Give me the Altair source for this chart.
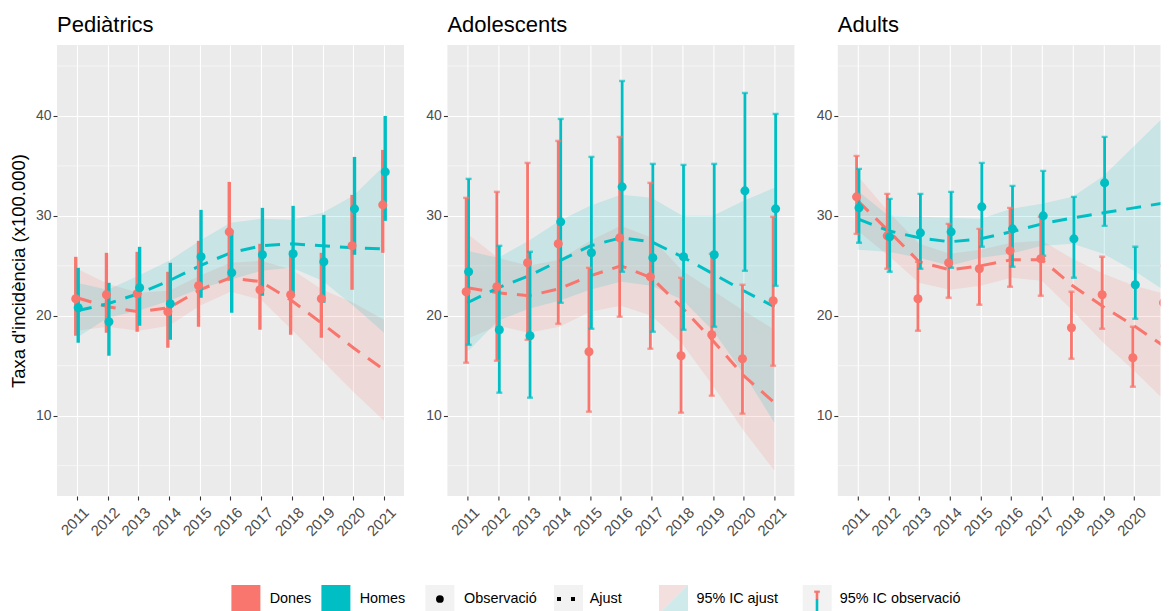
import altair as alt
import pandas as pd

years = list(range(2011, 2022))
groups = ["Pediàtrics", "Adolescents", "Adults"]
sexes = ["Dones", "Homes"]
colors = ["#F8766D", "#00BFC4"]
y_ticks = [10, 20, 30, 40]
y_minor = [5, 15, 25, 35, 45]

# ---- Pediàtrics ----
ped_d_obs = [21.7, 22.1, 22.2, 20.4, 23.0, 28.4, 22.6, 22.1, 21.7, 27.0, 31.1]
ped_d_lo = [18.0, 18.3, 18.4, 16.8, 18.9, 23.5, 18.6, 18.1, 17.8, 22.6, 26.3]
ped_d_hi = [25.9, 26.3, 26.4, 24.4, 27.5, 33.4, 27.2, 26.5, 26.3, 32.1, 36.6]
ped_h_obs = [20.8, 19.4, 22.8, 21.2, 25.9, 24.3, 26.1, 26.2, 25.4, 30.7, 34.4]
ped_h_lo = [17.3, 16.0, 19.0, 17.6, 21.8, 20.3, 22.0, 22.0, 21.3, 26.1, 29.5]
ped_h_hi = [24.8, 23.3, 26.9, 25.3, 30.6, 28.6, 30.8, 31.0, 30.1, 35.9, 40.0]
ped_d_fit = [21.8, 20.9, 20.4, 20.8, 22.6, 23.8, 23.4, 21.5, 19.2, 16.8, 14.6]
ped_d_flo = [18.5, 18.9, 18.5, 19.0, 21.0, 22.4, 21.6, 18.6, 15.5, 12.4, 9.5]
ped_d_fhi = [24.7, 23.2, 22.3, 22.5, 24.0, 25.3, 25.5, 24.6, 22.6, 21.3, 19.6]
ped_h_fit = [20.5, 21.2, 22.2, 23.5, 25.0, 26.3, 27.0, 27.2, 27.0, 26.8, 26.7]
ped_h_flo = [17.8, 19.8, 20.5, 21.5, 22.7, 23.6, 24.5, 24.8, 23.5, 21.0, 18.3]
ped_h_fhi = [23.3, 22.6, 24.0, 25.5, 27.5, 29.3, 29.7, 29.6, 30.3, 32.0, 35.0]

# ---- Adolescents ----
ado_d_obs = [22.4, 22.9, 25.3, 27.2, 16.4, 27.8, 23.9, 16.0, 18.1, 15.7, 21.5]
ado_d_lo = [15.3, 15.5, 17.6, 19.2, 10.4, 19.9, 16.7, 10.3, 12.0, 10.2, 15.0]
ado_d_hi = [31.8, 32.4, 35.3, 37.5, 24.8, 37.9, 33.3, 23.8, 26.2, 23.1, 29.9]
ado_h_obs = [24.4, 18.6, 18.0, 29.4, 26.3, 32.9, 25.8, 25.9, 26.1, 32.5, 30.7]
ado_h_lo = [17.1, 12.3, 11.8, 21.3, 18.7, 24.4, 18.4, 18.6, 18.9, 24.5, 23.0]
ado_h_hi = [33.7, 27.0, 26.4, 39.7, 35.9, 43.5, 35.2, 35.1, 35.2, 42.3, 40.2]
ado_d_fit = [22.8, 22.3, 22.0, 22.7, 24.0, 25.0, 23.8, 20.8, 17.5, 14.0, 11.3]
ado_d_flo = [17.7, 19.0, 18.3, 18.9, 20.4, 21.0, 20.0, 17.2, 13.0, 8.5, 4.5]
ado_d_fhi = [28.2, 25.8, 25.0, 25.6, 27.5, 29.0, 27.8, 24.5, 22.5, 20.5, 18.6]
ado_h_fit = [21.3, 22.8, 24.0, 25.5, 27.0, 27.8, 27.4, 25.9, 24.2, 22.5, 20.9]
ado_h_flo = [16.4, 19.5, 20.7, 21.5, 22.6, 23.4, 23.0, 21.6, 18.5, 14.2, 9.3]
ado_h_fhi = [26.5, 25.8, 27.5, 29.5, 31.0, 32.1, 31.8, 30.0, 30.0, 31.5, 32.8]

# ---- Adults ----
adu_d_obs = [31.9, 28.0, 21.7, 25.3, 24.7, 26.5, 25.7, 18.8, 22.1, 15.8, 21.3]
adu_d_lo = [28.2, 24.7, 18.5, 21.8, 21.1, 22.9, 22.0, 15.7, 18.7, 12.9, 17.9]
adu_d_hi = [36.0, 32.2, 25.4, 29.2, 28.7, 30.8, 29.9, 22.4, 25.9, 18.9, 25.0]
adu_h_obs = [30.8, 27.9, 28.3, 28.4, 30.9, 28.7, 30.0, 27.7, 33.3, 23.1, 30.3]
adu_h_lo = [27.3, 24.4, 24.7, 24.8, 26.9, 24.9, 26.0, 23.8, 29.0, 19.7, 26.4]
adu_h_hi = [34.7, 31.7, 32.2, 32.4, 35.3, 33.0, 34.5, 31.9, 37.9, 26.9, 34.6]
adu_d_fit = [31.5, 28.5, 25.4, 24.6, 25.0, 25.6, 25.6, 23.0, 20.9, 19.0, 16.9]
adu_d_flo = [28.5, 26.0, 23.3, 22.6, 23.0, 23.8, 23.5, 20.5, 17.3, 14.5, 11.5]
adu_d_fhi = [34.0, 30.4, 27.2, 26.2, 26.6, 27.3, 27.5, 25.7, 24.2, 23.0, 22.2]
adu_h_fit = [29.7, 28.5, 27.8, 27.4, 27.7, 28.4, 29.2, 29.8, 30.3, 30.8, 31.3]
adu_h_flo = [26.6, 26.4, 25.8, 25.0, 25.8, 26.2, 27.0, 27.2, 26.2, 24.5, 22.5]
adu_h_fhi = [32.5, 30.0, 29.9, 29.8, 29.7, 30.7, 31.2, 31.9, 34.0, 37.0, 40.0]

legend_labels = ["Dones", "Homes", "Observació", "Ajust", "95% IC ajust", "95% IC observació"]

FONT = "Liberation Sans"


def build_df(d, h):
    rows = []
    for sex, arrs in zip(sexes, (d, h)):
        obs, lo, hi, fit, flo, fhi = arrs
        for i, yr in enumerate(years):
            rows.append(dict(year=yr, sexe=sex, obs=obs[i], lo=lo[i], hi=hi[i],
                             fit=fit[i], flo=flo[i], fhi=fhi[i]))
    return pd.DataFrame(rows)


panel_data = [
    build_df((ped_d_obs, ped_d_lo, ped_d_hi, ped_d_fit, ped_d_flo, ped_d_fhi),
             (ped_h_obs, ped_h_lo, ped_h_hi, ped_h_fit, ped_h_flo, ped_h_fhi)),
    build_df((ado_d_obs, ado_d_lo, ado_d_hi, ado_d_fit, ado_d_flo, ado_d_fhi),
             (ado_h_obs, ado_h_lo, ado_h_hi, ado_h_fit, ado_h_flo, ado_h_fhi)),
    build_df((adu_d_obs, adu_d_lo, adu_d_hi, adu_d_fit, adu_d_flo, adu_d_fhi),
             (adu_h_obs, adu_h_lo, adu_h_hi, adu_h_fit, adu_h_flo, adu_h_fhi)),
]

PH = 451
STEP = 30.7
X0 = 2010.349
YDOM = [1.96, 47.1]
color_scale = alt.Scale(domain=sexes, range=colors)
one = alt.Data(values=[{"k": 0}])

# legend glyph placement, relative to the first panel's plot area (page x 57.3, y 45)
OX, OY = 57.3, 45.0
LY0, LY1, LYM = 585 - OY, 614 - OY, 599 - OY


def lrect(x0, x1, fill):
    return alt.Chart(one).mark_rect(color=fill).encode(
        x=alt.value(x0 - OX), x2=alt.value(x1 - OX), y=alt.value(LY0), y2=alt.value(LY1))


def ltext(x0, txt):
    return alt.Chart(one).mark_text(align="left", baseline="middle", fontSize=14.4,
                                    font=FONT, color="black").encode(
        x=alt.value(x0 - OX), y=alt.value(LYM), text=alt.value(txt))


def legend_layers():
    return [
        lrect(231.7, 260.7, colors[0]), ltext(270, legend_labels[0]),
        lrect(321.7, 350.7, colors[1]), ltext(360, legend_labels[1]),
        lrect(425.7, 454.7, "#F2F2F2"),
        alt.Chart(one).mark_point(filled=True, shape="circle", size=60, color="black",
                                  opacity=1).encode(x=alt.value(440.2 - OX), y=alt.value(LYM)),
        ltext(464.3, legend_labels[2]),
        lrect(554.3, 583.3, "#F2F2F2"),
        alt.Chart(one).mark_rule(color="black", strokeWidth=4, strokeDash=[4, 10]).encode(
            x=alt.value(557.3 - OX), x2=alt.value(583 - OX), y=alt.value(LYM)),
        ltext(590, legend_labels[3]),
        lrect(659.3, 688.3, "#F2F2F2"),
        alt.Chart(one).mark_point(filled=True, shape="M-1,-1L1,-1L-1,1Z", size=841,
                                  color="#F3DFDE", opacity=1).encode(
            x=alt.value(673.8 - OX), y=alt.value(599.5 - OY)),
        alt.Chart(one).mark_point(filled=True, shape="M1,-1L1,1L-1,1Z", size=841,
                                  color="#CEEAEB", opacity=1).encode(
            x=alt.value(673.8 - OX), y=alt.value(599.5 - OY)),
        ltext(696.7, legend_labels[4]),
        lrect(803, 832, "#F2F2F2"),
        alt.Chart(one).mark_rule(color=colors[0], strokeWidth=2.6).encode(
            x=alt.value(817.3 - OX), y=alt.value(591.7 - OY), y2=alt.value(LYM)),
        alt.Chart(one).mark_rule(color=colors[0], strokeWidth=2.2).encode(
            x=alt.value(814.5 - OX), x2=alt.value(820.1 - OX), y=alt.value(591.7 - OY)),
        alt.Chart(one).mark_rule(color=colors[1], strokeWidth=2.6).encode(
            x=alt.value(817.3 - OX), y=alt.value(LYM), y2=alt.value(LY1)),
        ltext(840, legend_labels[5]),
    ]


def panel(idx, name, df, width, xmax, yrs):
    first = idx == 0
    caps = idx > 0
    ebw = 3.4 if first else 2.8
    clip = idx == 2
    x_axis = alt.Axis(values=yrs, format="d", labelAngle=-45, labelAlign="right",
                      labelBaseline="top", labelOverlap=False, labelFontSize=15,
                      labelOffset=4, labelPadding=4.5,
                      grid=True, gridColor="white", gridWidth=1.1, title=None)
    y_axis = alt.Axis(values=y_ticks, grid=True, gridColor="white", gridWidth=1.1,
                      labelFontSize=14,
                      title="Taxa d'incidència (x100.000)" if first else None)
    xs = alt.Scale(domain=[X0, xmax], nice=False, zero=False)
    ys = alt.Scale(domain=YDOM, nice=False, zero=False)
    base = alt.Chart(df)
    X = alt.X("year:Q", scale=xs, axis=x_axis)
    XD = alt.X("xd:Q", scale=xs, axis=x_axis)
    col = alt.Color("sexe:N", scale=color_scale, legend=None)

    minor = alt.Chart(pd.DataFrame({"v": y_minor})).mark_rule(
        color="white", strokeWidth=0.55).encode(y=alt.Y("v:Q", scale=ys, axis=y_axis))
    ribbon = base.mark_area(opacity=0.15, clip=clip).encode(
        x=X, y=alt.Y("flo:Q", scale=ys, axis=y_axis), y2="fhi:Q", color=col)
    line = base.mark_line(strokeDash=[15, 10], strokeWidth=3, clip=clip).encode(
        x=X, y=alt.Y("fit:Q", scale=ys, axis=y_axis), color=col)
    dodged = base.transform_calculate(
        xd="datum.year + (datum.sexe == 'Dones' ? -0.04 : 0.04)")
    ebar = dodged.mark_rule(strokeWidth=ebw, clip=clip).encode(
        x=XD, y=alt.Y("lo:Q", scale=ys, axis=y_axis), y2="hi:Q", color=col)
    layers = [minor, ribbon, line, ebar]
    if caps:
        for fld in ("hi", "lo"):
            layers.append(dodged.mark_tick(orient="horizontal", size=6, thickness=2.4,
                                           clip=clip).encode(
                x=XD, y=alt.Y(fld + ":Q", scale=ys, axis=y_axis), color=col))
    layers.append(dodged.mark_circle(size=82, opacity=1, clip=clip).encode(
        x=XD, y=alt.Y("obs:Q", scale=ys, axis=y_axis), color=col))
    layers.append(alt.Chart(one).mark_text(
        align="left", baseline="alphabetic", fontSize=22, font=FONT, color="black").encode(
        x=alt.value(0), y=alt.value(31.7 - OY), text=alt.value(name)))
    if first:
        layers += legend_layers()
    return alt.layer(*layers).properties(width=width, height=PH)


W1 = 347
W3 = 1161 - 838.3
panels = [
    panel(0, groups[0], panel_data[0], W1, X0 + W1 / STEP, years),
    panel(1, groups[1], panel_data[1], W1, X0 + W1 / STEP, years),
    panel(2, groups[2], panel_data[2], W3, X0 + W3 / STEP, years[:-1]),
]

chart = alt.hconcat(*panels, spacing=43.4, bounds="flush").configure(
    font=FONT, padding={"left": 1, "top": 5, "right": 0, "bottom": 0}
).configure_view(fill="#EBEBEB", strokeWidth=0).configure_axis(
    domain=False, tickColor="#333333", tickSize=4, tickWidth=1.1,
    labelColor="#4D4D4D", labelFontSize=14, labelFont=FONT, labelPadding=2,
    titleFont=FONT, titleFontSize=18.5, titleFontWeight="normal", titleColor="black",
    titlePadding=7)

chart.save("out.html", embed_options={"renderer": "svg", "actions": False})
